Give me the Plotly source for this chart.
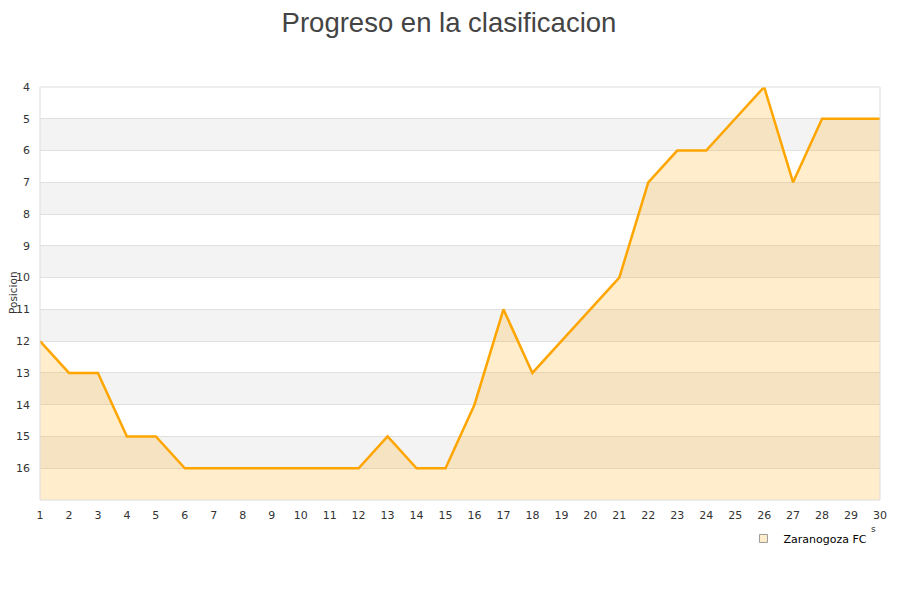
import plotly.graph_objects as go

jornadas = list(range(1, 31))
posiciones = [12, 13, 13, 15, 15, 16, 16, 16, 16, 16, 16, 16, 15, 16, 16,
              14, 11, 13, 12, 11, 10, 7, 6, 6, 5, 4, 7, 5, 5, 5]
y_ticks = list(range(4, 17))
team = "Zaranogoza FC"

fig = go.Figure()

# baseline for fill
fig.add_trace(go.Scatter(x=jornadas, y=[17] * len(jornadas), mode="lines",
                         line=dict(width=0), showlegend=False, hoverinfo="skip"))
fig.add_trace(go.Scatter(x=jornadas, y=posiciones, mode="lines",
                         line=dict(color="#FFA500", width=2.5),
                         fill="tonexty", fillcolor="rgba(255,165,0,0.2)",
                         showlegend=False, name=team))
# legend entry
fig.add_trace(go.Scatter(x=[None], y=[None], mode="markers", name=team,
                         marker=dict(symbol="square", size=8, color="#FFEDCC",
                                     line=dict(color="#999999", width=1))))

shapes = []
for lo in range(5, 17, 2):
    shapes.append(dict(type="rect", xref="paper", yref="y", x0=0, x1=1,
                       y0=lo, y1=lo + 1, fillcolor="#F3F3F3", line=dict(width=0),
                       layer="below"))
shapes.append(dict(type="rect", xref="paper", yref="paper", x0=0, x1=1, y0=0, y1=1,
                   line=dict(color="#DDDDDD", width=1), fillcolor="rgba(0,0,0,0)",
                   layer="above"))

fig.update_layout(
    width=900, height=600,
    margin=dict(l=32, r=28, t=79, b=108, autoexpand=False),
    paper_bgcolor="white", plot_bgcolor="white",
    font=dict(family="DejaVu Sans", size=11, color="#333333"),
    title=dict(text="Progreso en la clasificacion", x=0.49, xanchor="center",
               y=0.992, yanchor="top", automargin=False,
               font=dict(family="Liberation Sans", size=27.5, color="#444444")),
    shapes=shapes,
    showlegend=True,
    legend=dict(x=0.991, y=-0.058, xanchor="right", yanchor="top",
                font=dict(family="DejaVu Sans", size=11, color="#000000"),
                bgcolor="rgba(0,0,0,0)", itemwidth=30),
    xaxis=dict(range=[1, 30], tickmode="array", tickvals=jornadas, automargin=False,
               showgrid=False, zeroline=False, ticks="", showline=False,
               ticklabelstandoff=7,
               tickfont=dict(size=11, color="#333333")),
    yaxis=dict(range=[17, 4], tickmode="array", tickvals=y_ticks, automargin=False,
               showgrid=True, gridcolor="#E0E0E0", gridwidth=1, zeroline=False,
               ticks="", showline=False, ticklabelstandoff=9,
               tickfont=dict(size=11, color="#333333")),
)
fig.add_annotation(text="Posicion", x=(13 - 40) / 840, xref="paper", xanchor="center",
                   y=1 - (293 - 87) / 413, yref="paper", textangle=-90, showarrow=False,
                   font=dict(size=10.5, color="#333333"))
fig.add_annotation(text="s", x=0.9975, y=-0.088, xref="paper", yref="paper",
                   showarrow=False, font=dict(size=9, color="#333333"))

fig.write_html("out.html")
